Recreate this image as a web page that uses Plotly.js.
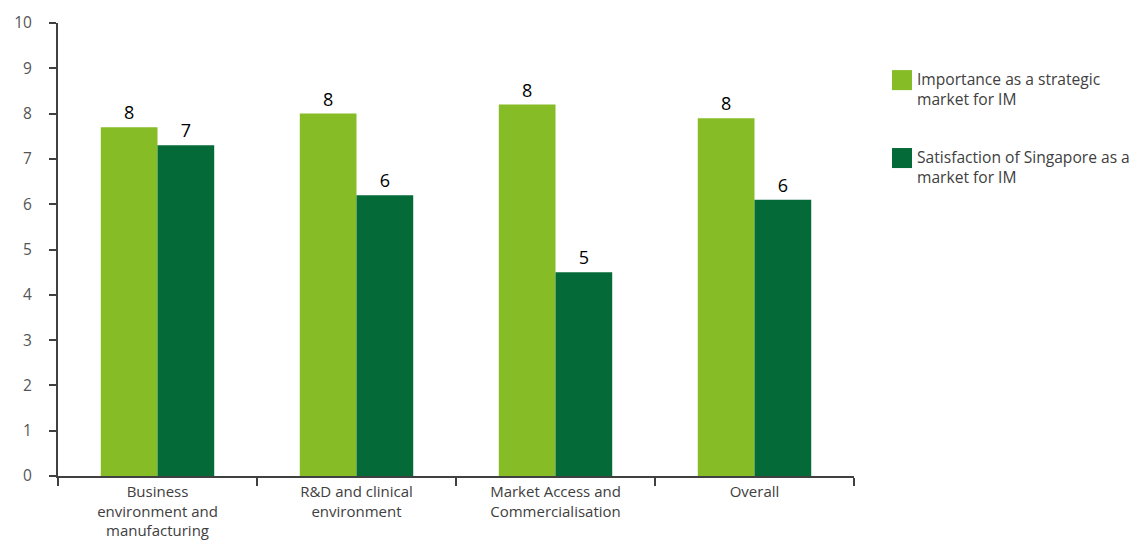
<!DOCTYPE html>
<html>
<head>
<meta charset="utf-8">
<script src="https://cdn.plot.ly/plotly-3.0.1.min.js"></script>
<style>html,body{margin:0;padding:0;background:#fff;}#chart{width:1133px;height:542px;}</style>
</head>
<body>
<div id="chart"></div>
<script>
var categories = ["Business<br>environment and<br>manufacturing", "R&D and clinical<br>environment", "Market Access and<br>Commercialisation", "Overall"];
var importance = [7.7, 8.0, 8.2, 7.9];
var satisfaction = [7.3, 6.2, 4.5, 6.1];
var seriesNames = ["Importance as a strategic<br>market for IM", "Satisfaction of Singapore as a<br>market for IM"];
var seriesColors = ["#86bc25", "#046a38"];
var yTicks = [0, 1, 2, 3, 4, 5, 6, 7, 8, 9, 10];

var font = "Open Sans, sans-serif";
function bar(y, name, color) {
  return {
    type: "bar", x: categories, y: y, name: name,
    marker: {color: color},
    texttemplate: "%{y:.0f}", textposition: "outside", cliponaxis: false,
    textfont: {family: font, size: 18, color: "#000"},
    hoverinfo: "x+y"
  };
}
var data = [
  bar(importance, seriesNames[0], seriesColors[0]),
  bar(satisfaction, seriesNames[1], seriesColors[1])
];

// manual legend (paper coords: plot domain x 58-854px, y 23-476px)
var legendRows = [{top: 0.896}, {top: 0.724}];
var shapes = [], annotations = [];
legendRows.forEach(function (r, i) {
  shapes.push({type: "rect", xref: "paper", yref: "paper",
    x0: 1.0477, x1: 1.0729, y0: r.top - 0.0442, y1: r.top,
    fillcolor: seriesColors[i], line: {width: 0}});
  annotations.push({xref: "paper", yref: "paper", x: 1.0766, y: r.top + 0.008,
    xanchor: "left", yanchor: "top", align: "left", showarrow: false,
    text: seriesNames[i], font: {family: font, size: 15.6, color: "#404040"}});
});

var layout = {
  width: 1133, height: 542,
  margin: {l: 58, r: 279, t: 23, b: 66},
  paper_bgcolor: "#fff", plot_bgcolor: "#fff",
  barmode: "group", bargap: 0.43, bargroupgap: 0,
  font: {family: font, size: 15, color: "#404040"},
  showlegend: false,
  shapes: shapes, annotations: annotations,
  xaxis: {
    showline: true, linecolor: "#404040", linewidth: 2,
    ticks: "outside", tickson: "boundaries", ticklen: 8, tickcolor: "#404040", tickwidth: 2,
    tickfont: {family: font, size: 15, color: "#404040"},
    ticklabelstandoff: 1,
    showgrid: false, zeroline: false, fixedrange: true
  },
  yaxis: {
    range: [0, 10], tickvals: yTicks, ticktext: yTicks.map(String),
    showline: true, linecolor: "#404040", linewidth: 2,
    ticks: "outside", ticklen: 7, tickcolor: "#404040", tickwidth: 2,
    tickfont: {family: font, size: 15.5, color: "#555"},
    ticklabelstandoff: 14,
    showgrid: false, zeroline: false, fixedrange: true
  }
};
Plotly.newPlot("chart", data, layout, {displayModeBar: false, staticPlot: true});
</script>
</body>
</html>
